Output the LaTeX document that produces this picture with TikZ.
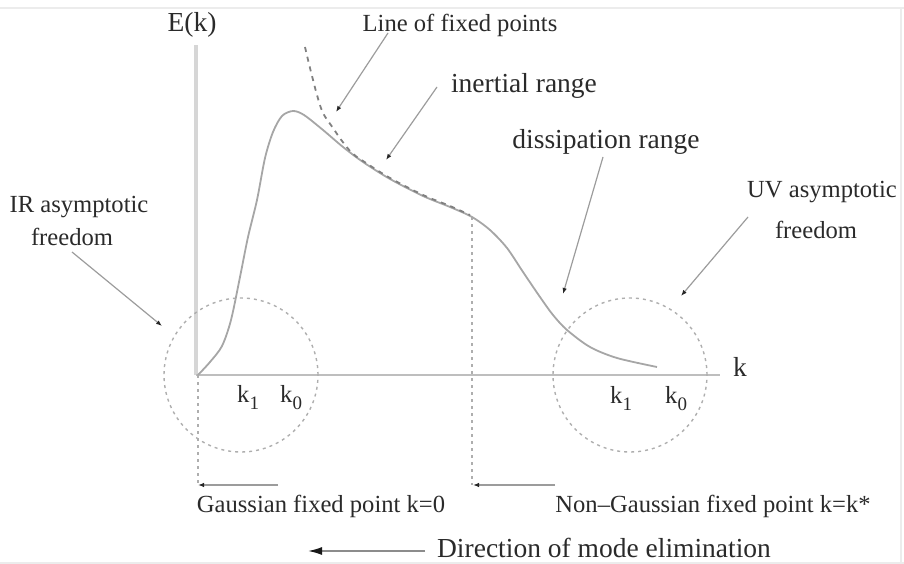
\documentclass[tikz,border=0pt]{standalone}
\usepackage{fontspec}
\setmainfont{Liberation Serif}
\usetikzlibrary{arrows.meta}
\definecolor{axisgray}{HTML}{D6D6D6}
\definecolor{xaxisgray}{HTML}{BEBEBE}
\definecolor{curvegray}{HTML}{A6A6A6}
\definecolor{dashgray}{HTML}{808080}
\definecolor{dotgray}{HTML}{AEAEAE}
\definecolor{ptrgray}{HTML}{9C9C9C}
\definecolor{txt}{HTML}{2A2A2A}
\definecolor{framegray}{HTML}{ECECEC}
\newcommand\fsA{\fontsize{24.6pt}{29pt}\selectfont}
\newcommand\fsB{\fontsize{27.5pt}{32pt}\selectfont}
\newcommand\ksb[1]{k\raisebox{-7pt}{\fontsize{19pt}{19pt}\selectfont #1}}
\begin{document}
\begin{tikzpicture}[x=1pt,y=-1pt,
  lab/.style={anchor=base, inner sep=0pt, text=txt, font=\fsA},
  bigl/.style={anchor=base, inner sep=0pt, text=txt, font=\fsB},
  klab/.style={anchor=base west, inner sep=0pt, text=txt, font=\fsA},
  ptr/.style={draw=ptrgray, line width=1.2pt, -{Latex[length=6pt,width=4.5pt,color=black!85]}},
  bigptr/.style={draw=ptrgray!90!black, line width=1.6pt, -{Latex[length=14pt,width=8pt,color=black!90]}},
  dotc/.style={draw=dotgray, line width=1.4pt, dash pattern=on 3pt off 4pt},
  curve/.style={draw=curvegray, line width=1.8pt},
  fixline/.style={draw=dashgray, line width=1.8pt, dash pattern=on 5pt off 5pt},
  frameline/.style={draw=framegray, line width=2pt}
]
\useasboundingbox (0,0) rectangle (904,564);
% light frame
\draw[frameline] (0,8) -- (904,8);
\draw[frameline] (901,8) -- (901,564);
\draw[frameline] (0,563) -- (904,563);

% axes
\coordinate (O) at (196,375);
\coordinate (ytop) at (196,45);
\coordinate (xend) at (720,375);
\draw[draw=axisgray, line width=4.5pt] (O) -- (ytop);
\draw[draw=xaxisgray, line width=2.6pt] (O) -- (xend);

% circles
\node[dotc, circle, minimum size=154pt, inner sep=0pt] (irc) at (241,375) {};
\node[dotc, circle, minimum size=154pt, inner sep=0pt] (uvc) at (630,375) {};

% vertical dotted lines
\coordinate (g0) at (198,375);
\coordinate (g1) at (198,485);
\coordinate (n0) at (472,217);
\coordinate (n1) at (472,485);
\draw[dotc] (g0) -- (g1);
\draw[dotc] (n0) -- (n1);

% spectrum curve
\draw[curve] plot[smooth, tension=0.5] coordinates {(198,375) (210,362) (222,346) (231,320) (240,277) (248,237) (257,200) (265,158) (273,132) (282,116) (293,111) (304,115) (323,130) (343,147) (363,162) (390,179) (423,196) (450,207) (472,217) (490,230) (507,248) (523,272) (540,297) (553,315) (567,330) (590,347) (617,358) (657,367)};

% line of fixed points
\draw[fixline] plot[smooth, tension=0.55] coordinates {(305,47) (310,68) (317,95) (323,113) (333,128) (342,141) (352,153) (363,161) (390,178) (423,195) (450,206) (470,215)};

% labels
\node[bigl] (Ek) at (192,32) {E(k)};
\node[bigl] (kax) at (740,376) {k};
\node[lab] (lfp) at (460,32) {Line of fixed points};
\node[bigl] (inr) at (524,93) {inertial range};
\node[bigl] (dis) at (606,149) {dissipation range};
\node[lab] (uv1) at (822,197) {UV asymptotic};
\node[lab] (uv2) at (816,238) {freedom};
\node[lab] (ir1) at (79,212) {IR asymptotic};
\node[lab] (ir2) at (72,245) {freedom};
\node[klab] (k1a) at (237,402) {\ksb{1}};
\node[klab] (k0a) at (280,402) {\ksb{0}};
\node[klab] (k1b) at (610,403) {\ksb{1}};
\node[klab] (k0b) at (665,403) {\ksb{0}};
\node[lab] (gfp) at (321,512) {Gaussian fixed point k=0};
\node[lab] (ngfp) at (713,512) {Non\textendash Gaussian fixed point k=k*};
\node[bigl] (dir) at (604,557) {Direction of mode elimination};

% pointer coordinates
\coordinate (lfpA) at (388,33);
\coordinate (lfpB) at (336,112);
\coordinate (inrA) at (437,87);
\coordinate (inrB) at (386,160);
\coordinate (disA) at (603,157);
\coordinate (disB) at (563,294);
\coordinate (uvA) at (748,217);
\coordinate (uvB) at (681,296);
\coordinate (irA) at (72,252);
\coordinate (irB) at (162,326);
\coordinate (gA) at (278,485);
\coordinate (gB) at (198,485);
\coordinate (nA) at (555,485);
\coordinate (nB) at (473,485);
\coordinate (dA) at (425,551);
\coordinate (dB) at (308,551);

\draw[ptr] (lfpA) -- (lfpB);
\draw[ptr] (inrA) -- (inrB);
\draw[ptr] (disA) -- (disB);
\draw[ptr] (uvA) -- (uvB);
\draw[ptr] (irA) -- (irB);
\draw[ptr] (gA) -- (gB);
\draw[ptr] (nA) -- (nB);
\draw[bigptr] (dA) -- (dB);
\end{tikzpicture}
\end{document}
